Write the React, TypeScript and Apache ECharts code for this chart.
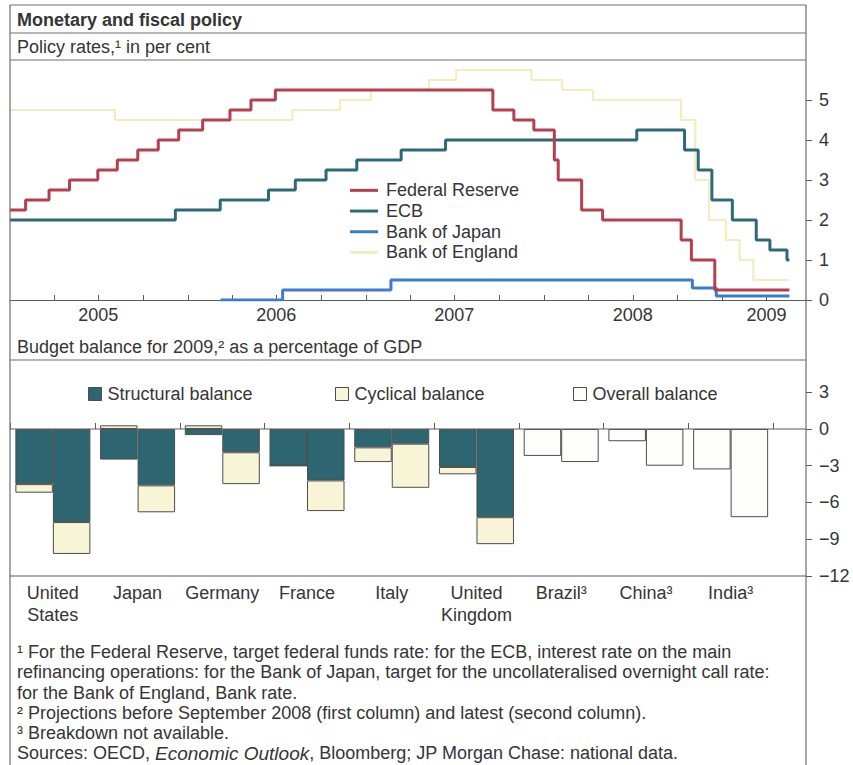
import React, { useEffect, useRef } from "react";
import * as echarts from "echarts";

// ---------- Policy rates (step data: date of change, new rate) ----------
const FED_DATES = ["2005-01-01","2005-02-02","2005-03-22","2005-05-03","2005-06-30","2005-08-09","2005-09-20","2005-11-01","2005-12-13","2006-01-31","2006-03-28","2006-05-10","2006-06-29","2007-09-18","2007-10-31","2007-12-11","2008-01-22","2008-01-30","2008-03-18","2008-04-30","2008-10-08","2008-10-29","2008-12-16","2009-05-18"];
const FED_RATES = [2.25,2.5,2.75,3.0,3.25,3.5,3.75,4.0,4.25,4.5,4.75,5.0,5.25,4.75,4.5,4.25,3.5,3.0,2.25,2.0,1.5,1.0,0.25,0.25];

const ECB_DATES = ["2005-01-01","2005-12-06","2006-03-08","2006-06-15","2006-08-09","2006-10-11","2006-12-13","2007-03-14","2007-06-13","2008-07-09","2008-10-15","2008-11-12","2008-12-10","2009-01-21","2009-03-11","2009-04-08","2009-05-13","2009-05-18"];
const ECB_RATES = [2.0,2.25,2.5,2.75,3.0,3.25,3.5,3.75,4.0,4.25,3.75,3.25,2.5,2.0,1.5,1.25,1.0,1.0];

const BOJ_DATES = ["2006-03-09","2006-07-14","2007-02-21","2008-10-31","2008-12-19","2009-05-18"];
const BOJ_RATES = [0,0.25,0.5,0.3,0.1,0.1];

const BOE_DATES = ["2005-01-01","2005-08-04","2006-08-03","2006-11-09","2007-01-11","2007-05-10","2007-07-05","2007-12-06","2008-02-07","2008-04-10","2008-10-08","2008-11-06","2008-12-04","2009-01-08","2009-02-05","2009-03-05","2009-05-18"];
const BOE_RATES = [4.75,4.5,4.75,5.0,5.25,5.5,5.75,5.5,5.25,5.0,4.5,3.0,2.0,1.5,1.0,0.5,0.5];

const X_START = "2005-01-01";
const X_END = "2009-06-21";
const QUARTER_TICKS = ["2005-04-01","2005-07-01","2005-10-01","2006-01-01","2006-04-01","2006-07-01","2006-10-01","2007-01-01","2007-04-01","2007-07-01","2007-10-01","2008-01-01","2008-04-01","2008-07-01","2008-10-01","2009-01-01","2009-04-01"];
const YEAR_LABEL_POS = ["2005-07-01","2006-07-01","2007-07-01","2008-07-01","2009-04-01"];
const RATE_TICKS = [0,1,2,3,4,5];

// ---------- Budget balance 2009 ----------
const COUNTRIES = ["United\nStates","Japan","Germany","France","Italy","United\nKingdom","Brazil³","China³","India³"];
const STRUCT_PRE = [-4.5,-2.5,-0.5,-3.0,-1.5,-3.1,null,null,null];
const CYCL_PRE = [-0.7,0.3,0.3,0,-1.2,-0.6,null,null,null];
const OVERALL_PRE = [null,null,null,null,null,null,-2.2,-1.0,-3.3];
const STRUCT_LATEST = [-7.6,-4.6,-1.9,-4.2,-1.2,-7.2,null,null,null];
const CYCL_LATEST = [-2.6,-2.2,-2.6,-2.5,-3.6,-2.2,null,null,null];
const OVERALL_LATEST = [null,null,null,null,null,null,-2.7,-3.0,-7.2];
const BAL_TICKS = [-12,-9,-6,-3,0,3];
const BAL_MIN = -12;
const BAL_MAX = 5.63;

const FOOTNOTES = [
  "¹ For the Federal Reserve, target federal funds rate: for the ECB, interest rate on the main",
  "refinancing operations: for the Bank of Japan, target for the uncollateralised overnight call rate:",
  "for the Bank of England, Bank rate.",
  "² Projections before September 2008 (first column) and latest (second column).",
  "³ Breakdown not available.",
];

const FONT = '"Liberation Sans", Arial, Helvetica, sans-serif';
const TXT = "#353535";
const FRAME = "#6e6e6e";
const AXIS = "#5a5a5a";

const C_FED = "#b3404c";
const C_ECB = "#2e6a76";
const C_BOJ = "#3d7bcf";
const C_BOE = "#f2ecbf";
const C_STRUCT = "#2d6571";
const C_CYCL = "#f8f4d6";
const C_OVER = "#fdfdf9";
const BAR_BORDER = "#4d4d4d";

const ts = (d: string) => Date.parse(d);
const pairs = (dates: string[], vals: number[]) => dates.map((d, i) => [ts(d), vals[i]]);

export default function App() {
  const ref = useRef<HTMLDivElement>(null);

  useEffect(() => {
    if (!ref.current) return;
    const chart = echarts.init(ref.current, null, { renderer: "svg" });

    const lineSeries = (name: string, dates: string[], vals: number[], color: string, width: number, z: number) => ({
      name,
      type: "line",
      xAxisIndex: 0,
      yAxisIndex: 0,
      step: "end",
      showSymbol: false,
      symbol: "none",
      data: pairs(dates, vals),
      lineStyle: { color, width },
      itemStyle: { color },
      z,
    });

    const barSeries = (name: string, stack: string, data: (number | null)[], color: string) => ({
      name,
      type: "bar",
      xAxisIndex: 1,
      yAxisIndex: 1,
      stack,
      data,
      barWidth: 37.5,
      barGap: "0%",
      itemStyle: { color, borderColor: BAR_BORDER, borderWidth: 1 },
    });

    const legendText = { fontFamily: FONT, fontSize: 18, color: TXT };

    const option: any = {
      animation: false,
      textStyle: { fontFamily: FONT },
      grid: [
        { left: 10, top: 60, width: 796, height: 240 },
        { left: 10.5, top: 360, width: 762.5, height: 216 },
      ],
      xAxis: [
        {
          gridIndex: 0,
          type: "value",
          min: ts(X_START),
          max: ts(X_END),
          axisLine: { show: true, lineStyle: { color: AXIS, width: 1.2 } },
          axisTick: {
            show: true,
            inside: true,
            length: 5,
            customValues: QUARTER_TICKS.map(ts),
            lineStyle: { color: AXIS, width: 1 },
          },
          axisLabel: {
            customValues: YEAR_LABEL_POS.map(ts),
            formatter: (v: number) => String(new Date(v).getUTCFullYear()),
            fontSize: 18,
            color: TXT,
            margin: 6,
            fontFamily: FONT,
          },
          splitLine: { show: false },
        },
        {
          gridIndex: 1,
          type: "category",
          data: COUNTRIES,
          axisLine: { show: false },
          axisTick: { show: true, inside: true, length: 6, interval: 0, lineStyle: { color: AXIS, width: 1 } },
          axisLabel: { interval: 0, fontSize: 18, lineHeight: 22, color: TXT, margin: 6, fontFamily: FONT },
          splitLine: { show: false },
        },
      ],
      yAxis: [
        {
          gridIndex: 0,
          type: "value",
          position: "right",
          min: 0,
          max: 6,
          axisLine: { show: false },
          axisTick: { show: true, length: 6, customValues: RATE_TICKS, lineStyle: { color: AXIS, width: 1 } },
          axisLabel: { customValues: RATE_TICKS, fontSize: 18, color: TXT, margin: 13, fontFamily: FONT },
          splitLine: { show: false },
        },
        {
          gridIndex: 1,
          type: "value",
          position: "right",
          offset: 33,
          min: BAL_MIN,
          max: BAL_MAX,
          axisLine: { show: false },
          axisTick: { show: true, length: 6, customValues: BAL_TICKS, lineStyle: { color: AXIS, width: 1 } },
          axisLabel: {
            customValues: BAL_TICKS,
            formatter: (v: number) => (v < 0 ? "\u2212" + Math.abs(v) : String(v)),
            fontSize: 18,
            color: TXT,
            margin: 13,
            fontFamily: FONT,
          },
          splitLine: { show: false },
        },
      ],
      legend: [
        {
          orient: "vertical",
          left: 350,
          top: 180,
          padding: 0,
          itemWidth: 28,
          itemHeight: 3,
          itemGap: 0,
          icon: "rect",
          textStyle: { ...legendText, fontSize: 18, lineHeight: 20.7, padding: [0, 0, 0, 3] },
          data: ["Federal Reserve", "ECB", "Bank of Japan", "Bank of England"],
          selectedMode: false,
        },
        {
          left: 88,
          top: 385,
          padding: 0,
          itemWidth: 13,
          itemHeight: 13,
          icon: "rect",
          textStyle: { ...legendText, padding: [0, 0, 0, 1] },
          data: [{ name: "Structural balance", itemStyle: { color: C_STRUCT, borderColor: BAR_BORDER, borderWidth: 1 } }],
          selectedMode: false,
        },
        {
          left: 335,
          top: 385,
          padding: 0,
          itemWidth: 13,
          itemHeight: 13,
          icon: "rect",
          textStyle: { ...legendText, padding: [0, 0, 0, 1] },
          data: [{ name: "Cyclical balance", itemStyle: { color: C_CYCL, borderColor: BAR_BORDER, borderWidth: 1 } }],
          selectedMode: false,
        },
        {
          left: 573,
          top: 385,
          padding: 0,
          itemWidth: 13,
          itemHeight: 13,
          icon: "rect",
          textStyle: { ...legendText, padding: [0, 0, 0, 1] },
          data: [{ name: "Overall balance", itemStyle: { color: C_OVER, borderColor: BAR_BORDER, borderWidth: 1 } }],
          selectedMode: false,
        },
      ],
      series: [
        lineSeries("Bank of England", BOE_DATES, BOE_RATES, C_BOE, 2.2, 2),
        lineSeries("Bank of Japan", BOJ_DATES, BOJ_RATES, C_BOJ, 3, 3),
        lineSeries("ECB", ECB_DATES, ECB_RATES, C_ECB, 3, 4),
        lineSeries("Federal Reserve", FED_DATES, FED_RATES, C_FED, 3, 5),
        barSeries("Structural balance", "pre", STRUCT_PRE, C_STRUCT),
        barSeries("Cyclical balance", "pre", CYCL_PRE, C_CYCL),
        barSeries("Overall balance", "pre", OVERALL_PRE, C_OVER),
        barSeries("Structural balance", "latest", STRUCT_LATEST, C_STRUCT),
        barSeries("Cyclical balance", "latest", CYCL_LATEST, C_CYCL),
        barSeries("Overall balance", "latest", OVERALL_LATEST, C_OVER),
      ],
    };

    chart.setOption(option);

    const zeroY = chart.convertToPixel({ yAxisIndex: 1 } as any, 0) as number;
    const botY = chart.convertToPixel({ yAxisIndex: 1 } as any, BAL_MIN) as number;

    const hline = (y: number, x1: number, x2: number, color = FRAME, w = 1.2) => ({
      type: "line",
      z: 100,
      shape: { x1, y1: y, x2, y2: y },
      style: { stroke: color, lineWidth: w },
      silent: true,
    });
    const vline = (x: number, y1: number, y2: number) => ({
      type: "line",
      z: 100,
      shape: { x1: x, y1, x2: x, y2 },
      style: { stroke: FRAME, lineWidth: 1.2 },
      silent: true,
    });
    const text = (x: number, y: number, t: string, extra: any = {}) => ({
      type: "text",
      z: 100,
      x,
      y,
      style: {
        text: t,
        fill: TXT,
        fontFamily: FONT,
        fontSize: 18,
        verticalAlign: "middle",
        align: "left",
        ...extra,
      },
      silent: true,
    });

    const footY = [652, 672, 693, 713, 733];
    const graphic: any[] = [
      vline(10, 5, 765),
      vline(806, 5, 765),
      hline(5, 10, 806),
      hline(33, 10, 806),
      hline(60, 10, 806),
      hline(360, 10, 806),
      hline(zeroY, 10, 806, AXIS, 1.2),
      hline(botY, 10, 806, AXIS, 1.2),
      text(17, 19.5, "Monetary and fiscal policy", { fontWeight: "bold" }),
      text(17, 47, "Policy rates,¹ in per cent"),
      text(17, 347, "Budget balance for 2009,² as a percentage of GDP"),
      ...FOOTNOTES.map((f, i) => text(17, footY[i], f, { fontSize: 18 })),
      {
        type: "text",
        z: 100,
        x: 17,
        y: 753,
        silent: true,
        style: {
          text: "{n|Sources: OECD, }{i|Economic Outlook}{n|, Bloomberg; JP Morgan Chase: national data.}",
          verticalAlign: "middle",
          align: "left",
          fill: TXT,
          fontFamily: FONT,
          fontSize: 18,
          rich: {
            n: { fill: TXT, fontFamily: FONT, fontSize: 18 },
            i: { fill: TXT, fontFamily: FONT, fontSize: 19, fontStyle: "italic" },
          },
        },
      },
    ];

    chart.setOption({ graphic });

    return () => chart.dispose();
  }, []);

  return (
    <div
      ref={ref}
      style={{ position: "absolute", left: 0, top: 0, width: 853, height: 765, background: "#fff" }}
    />
  );
}
